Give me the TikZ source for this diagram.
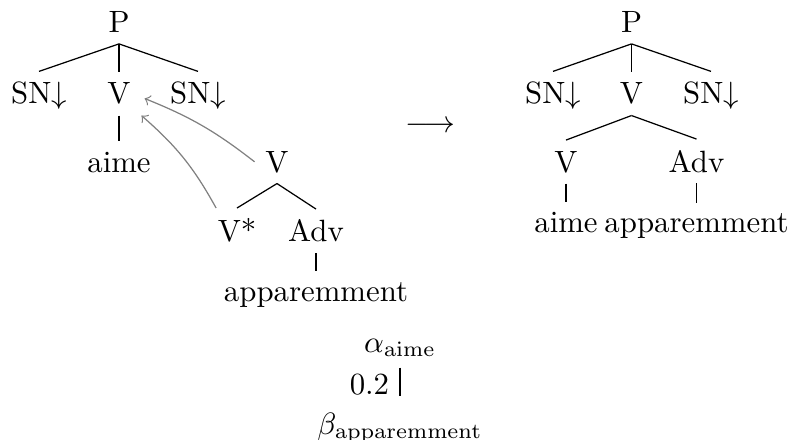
\documentclass[tikz,border=0pt]{standalone}
\usetikzlibrary{arrows}

\begin{document}
\begin{tikzpicture}[x=1.141cm, y=1.141cm]
      \tikzset{
	  lbl/.style={anchor=base},
	  adj/.style={->, gray, thin}
      }
      \useasboundingbox (0,0) rectangle (7.92,-4.40);

      \def\sndown{SN$\downarrow$}

      \node[lbl] (p1) at (1.19,-0.33) {P};
      \node[lbl] (sna) at (0.39,-1.04) {\sndown};
      \node[lbl] (vone) at (1.19,-1.04) {V};
      \node[lbl] (snb) at (1.98,-1.04) {\sndown};
      \node[lbl] (aime1) at (1.19,-1.72) {aime};
      \draw (p1.south) -- (sna.north);
      \draw (p1.south) -- (vone.north);
      \draw (p1.south) -- (snb.north);
      \draw (vone.south) -- (aime1.north);

      \node[lbl] (vtwo) at (2.77,-1.72) {V};
      \node[lbl] (vstar) at (2.37,-2.42) {V*};
      \node[lbl] (adv1) at (3.16,-2.42) {Adv};
      \node[lbl] (app1) at (3.16,-3.01) {apparemment};
      \draw (vtwo.south) -- (vstar.north);
      \draw (vtwo.south) -- (adv1.north);
      \draw (adv1.south) -- (app1.north);

      \draw[adj] (vtwo.west) to[bend right=8] ([xshift=1pt,yshift=-1.5pt]vone.east);
      \draw[adj] ([xshift=3pt]vstar.north west) to[bend right=10] (vone.south east);

      \node (arr) at (4.30,-1.27) {$\longrightarrow$};

      \node[lbl] (p2) at (6.315,-0.33) {P};
      \node[lbl] (snc) at (5.53,-1.04) {\sndown};
      \node[lbl] (vthree) at (6.315,-1.04) {V};
      \node[lbl] (snd) at (7.11,-1.04) {\sndown};
      \node[lbl] (vfour) at (5.66,-1.72) {V};
      \node[lbl] (adv2) at (6.965,-1.72) {Adv};
      \node[lbl] (aime2) at (5.66,-2.33) {aime};
      \node[lbl] (app2) at (6.965,-2.33) {apparemment};
      \draw (p2.south) -- (snc.north);
      \draw (p2.south) -- (vthree.north);
      \draw (p2.south) -- (snd.north);
      \draw (vthree.south) -- (vfour.north);
      \draw (vthree.south) -- (adv2.north);
      \draw (vfour.south) -- (aime2.north);
      \draw (adv2.south) -- (app2.north);

      \node[lbl] (alpha) at (4.00,-3.52) {$\alpha_{\mathrm{aime}}$};
      \node[lbl] (beta) at (4.00,-4.34) {$\beta_{\mathrm{apparemment}}$};
      \draw[shorten >=2pt] (alpha.south) -- node[left] {0.2} (beta.north);
    \end{tikzpicture}
\end{document}
